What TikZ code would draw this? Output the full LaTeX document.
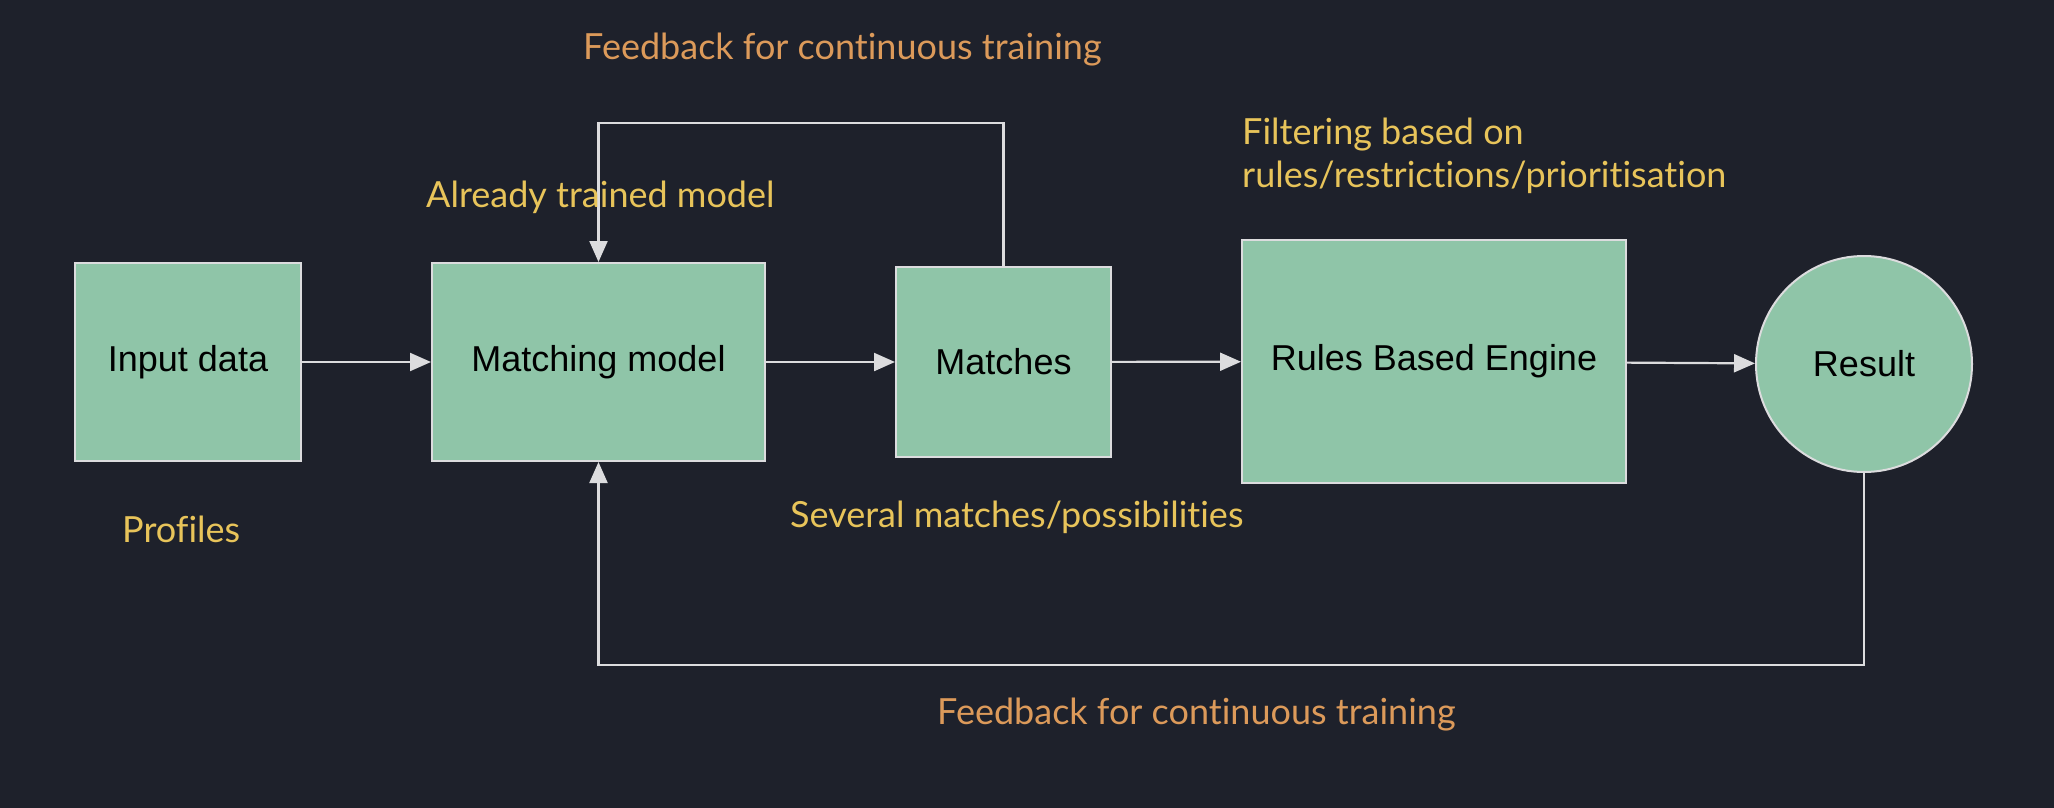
\documentclass[tikz,border=0pt]{standalone}
\usepackage{fontspec}
\setmainfont{Lato}[Ligatures={NoCommon,NoContextual}]
\newfontfamily\arialf{Liberation Sans}
\usetikzlibrary{arrows.meta}
\definecolor{bgc}{HTML}{1E212B}
\definecolor{boxg}{HTML}{8FC5A8}
\definecolor{linec}{HTML}{DCDCDE}
\definecolor{yel}{HTML}{E8C45A}
\definecolor{org}{HTML}{DC9A5A}
\begin{document}
\begin{tikzpicture}[x=1pt,y=-1pt,
  blk/.style={draw=linec,line width=2pt,fill=boxg,inner sep=0pt,font=\arialf\fontsize{36}{40}\selectfont,text=black},
  conn/.style={draw=linec,line width=2.2pt,-{Triangle[length=21pt,width=18pt]}},
  ylab/.style={text=yel,inner sep=0pt,anchor=west,font=\fontsize{36}{43}\selectfont},
  olab/.style={text=org,inner sep=0pt,anchor=west,font=\fontsize{36}{43}\selectfont}]
\fill[bgc] (0,0) rectangle (2054,808);
\useasboundingbox (0,0) rectangle (2054,808);
\node[blk,minimum width=226pt,minimum height=198pt] (inp) at (188,362) {Input data};
\node[blk,minimum width=333pt,minimum height=198pt] (mm) at (598.5,362) {Matching model};
\node[blk,minimum width=215pt,minimum height=190pt] (mat) at (1003.5,362) {Matches};
\node[blk,minimum width=384pt,minimum height=243pt] (rbe) at (1434,361.5) {Rules Based Engine};
\node[blk,circle,minimum size=216pt] (res) at (1864,364) {Result};
\coordinate (tl) at (598.5,123);
\coordinate (tr) at (1003.5,123);
\coordinate (bl) at (598.5,665);
\coordinate (br) at (1864,665);
\draw[conn] (inp) -- (mm);
\draw[conn] (mm) -- (mat);
\draw[conn] (mat) -- (rbe);
\draw[conn] (rbe) -- (res);
\draw[conn] (mat.north) -- (tr) -- (tl) -- (mm.north);
\draw[conn] (res.south) -- (br) -- (bl) -- (mm.south);
\node[olab] (fbtop) at (583,50) {Feedback for continuous training};
\node[ylab] (already) at (426,197) {Already trained model};
\node[ylab,align=left] (filt) at (1242,155.5) {Filtering based on\\rules/restrictions/prioritisation};
\node[ylab] (prof) at (122,529) {Profiles};
\node[ylab] (sev) at (790,517) {Several matches/possibilities};
\node[olab] (fbbot) at (937,715) {Feedback for continuous training};
\end{tikzpicture}
\end{document}
